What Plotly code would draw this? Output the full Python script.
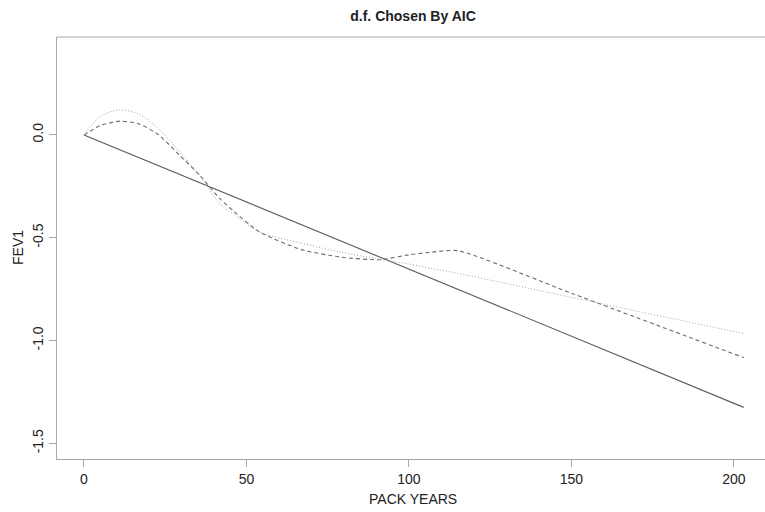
import plotly.graph_objects as go

# Fitted FEV1 change against pack years for three model fits
pack_years = [0, 5, 11, 17, 23, 29.5, 35.7, 41.8, 46, 54, 66.5, 78.8, 91, 100, 106.5, 115, 150, 203]
fev1_spline_dashed = [0, 0.045, 0.067, 0.053, 0.0, -0.10, -0.198, -0.31, -0.37, -0.472, -0.556,
                      -0.594, -0.607, -0.583, -0.571, -0.563, -0.770, -1.083]
fev1_spline_dotted = [0, 0.09, 0.122, 0.10, 0.029, -0.084, -0.198, -0.335, -0.385, -0.472, -0.525,
                      -0.569, -0.605, -0.628, -0.648, -0.673, -0.790, -0.966]
linear_x = [0, 203]
linear_y = [0, -1.325]

x_ticks = [0, 50, 100, 150, 200]
y_ticks = [-1.5, -1.0, -0.5, 0.0]
y_tick_labels = ["-1.5", "-1.0", "-0.5", "0.0"]

FONT = "Liberation Sans, Arial, sans-serif"
AXIS_GREY = "#a8a8a8"

fig = go.Figure()
fig.add_trace(go.Scatter(x=linear_x, y=linear_y, mode="lines",
                         line=dict(color="#5a5a5a", width=1.1)))
fig.add_trace(go.Scatter(x=pack_years, y=fev1_spline_dashed, mode="lines",
                         line=dict(color="#6e6e6e", width=1.1, dash="4px,3px",
                                   shape="spline", smoothing=0.6)))
fig.add_trace(go.Scatter(x=pack_years, y=fev1_spline_dotted, mode="lines",
                         line=dict(color="#a0a0a0", width=1, dash="1px,2px",
                                   shape="spline", smoothing=0.8)))

fig.update_layout(
    width=765, height=512,
    margin=dict(l=57, r=0, t=37, b=53),
    paper_bgcolor="white", plot_bgcolor="white",
    showlegend=False,
    font=dict(family=FONT, size=14, color="#222222"),
    title=dict(text="<b>d.f. Chosen By AIC</b>", x=413 / 765, xanchor="center",
               y=1 - 16 / 512, yanchor="middle",
               font=dict(family=FONT, size=14, color="#222222")),
    xaxis=dict(range=[-8.3, 209.55], tickvals=x_ticks, ticks="outside", ticklen=7,
               tickcolor=AXIS_GREY, showgrid=False, zeroline=False,
               showline=True, linecolor=AXIS_GREY, linewidth=1,
               tickfont=dict(size=14, color="#222222")),
    yaxis=dict(range=[-1.576, 0.476], tickvals=y_ticks, ticktext=y_tick_labels,
               tickangle=-90, ticks="outside", ticklen=7, tickcolor=AXIS_GREY,
               showgrid=False, zeroline=False,
               showline=True, linecolor=AXIS_GREY, linewidth=1,
               tickfont=dict(size=14, color="#222222")),
    shapes=[dict(type="line", xref="paper", yref="paper", x0=0, x1=1, y0=1, y1=1,
                 line=dict(color=AXIS_GREY, width=1))],
    annotations=[
        dict(text="PACK YEARS", xref="paper", yref="paper", x=(413 - 57) / 708, y=0,
             yshift=-40, xanchor="center", yanchor="middle", showarrow=False,
             font=dict(size=14, color="#222222")),
        dict(text="FEV1", xref="paper", yref="paper", x=0, y=0.5, xshift=-39,
             textangle=-90, xanchor="center", yanchor="middle", showarrow=False,
             font=dict(size=14, color="#222222")),
    ],
)

fig.write_html("out.html")
